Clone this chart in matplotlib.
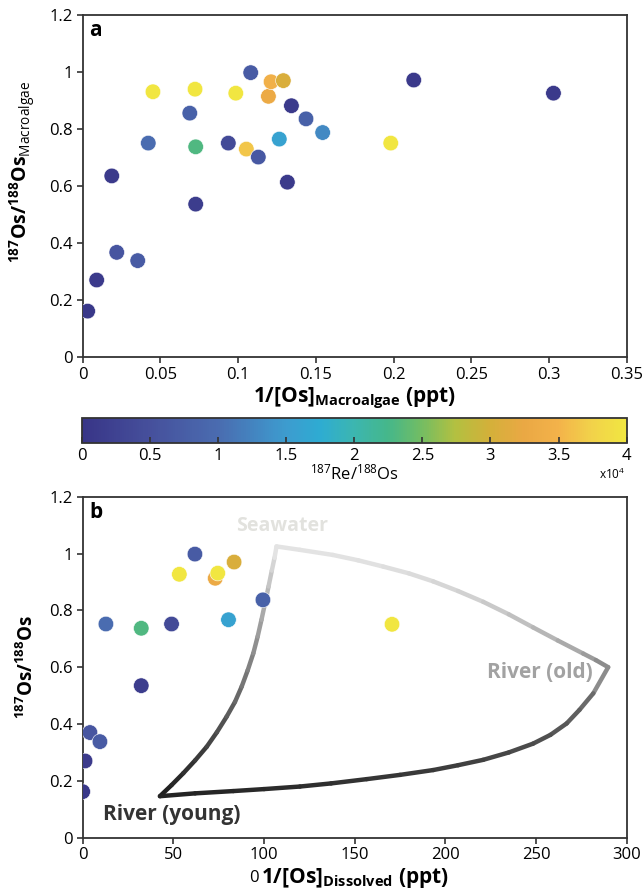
import numpy as np
import matplotlib
matplotlib.use("Agg")
import matplotlib.pyplot as plt
from matplotlib.colors import LinearSegmentedColormap, Normalize
from matplotlib.collections import LineCollection

plt.rcParams['font.family'] = ['Open Sans', 'DejaVu Sans']
plt.rcParams['mathtext.fontset'] = 'custom'
plt.rcParams['mathtext.rm'] = 'Open Sans'
plt.rcParams['mathtext.default'] = 'regular'

# ---- data: panel a (macroalgae) ----
inv_os_algae = [0.0032, 0.009, 0.0187, 0.0219, 0.0354, 0.0422, 0.0452, 0.0689, 0.0723,
                0.0727, 0.0727, 0.0937, 0.0985, 0.1053, 0.1081, 0.1130, 0.1195, 0.1212,
                0.1265, 0.1291, 0.1317, 0.1343, 0.1437, 0.1544, 0.2130, 0.1982, 0.3029]
os_ratio_algae = [0.162, 0.271, 0.636, 0.368, 0.339, 0.751, 0.931, 0.856, 0.940,
                  0.738, 0.537, 0.751, 0.926, 0.730, 0.998, 0.702, 0.915, 0.966,
                  0.765, 0.970, 0.614, 0.882, 0.836, 0.788, 0.972, 0.751, 0.926]
re_os_algae = [500, 1000, 1000, 6000, 7000, 10000, 40000, 8000, 40000,
               23000, 1500, 4000, 40000, 36500, 7000, 6500, 33000, 34500,
               16000, 30500, 1000, 1000, 8000, 13000, 1000, 40000, 1000]

# ---- data: panel b (dissolved) ----
inv_os_diss = [0, 1.3, 4.0, 9.5, 12.8, 32.3, 32.3, 49, 53.3, 61.9, 73.1, 74.5, 83.5, 80.4, 99.4, 170.6]
os_ratio_diss = [0.162, 0.270, 0.370, 0.338, 0.752, 0.737, 0.535, 0.752, 0.927, 0.998,
                 0.913, 0.931, 0.970, 0.767, 0.837, 0.751]
re_os_diss = [500, 1000, 6000, 7000, 10000, 23000, 1500, 4000, 40000, 7000,
              33000, 40000, 30500, 16000, 8000, 40000]

# mixing envelope
young_sw_x = [42.6, 49, 55.5, 62, 68.4, 74, 79.4, 84, 87.7, 91, 94.1, 96.5, 98.6,
              100.6, 102.5, 104.3, 105.8, 106.9]
young_sw_y = [0.146, 0.185, 0.227, 0.272, 0.320, 0.371, 0.426, 0.478, 0.532, 0.589,
              0.649, 0.708, 0.767, 0.826, 0.884, 0.940, 0.985, 1.025]
sw_old_x = [106.9, 119.8, 138, 152, 165.8, 180, 193.3, 207, 220.9, 235, 248.4, 262, 276, 283, 289.8]
sw_old_y = [1.025, 1.013, 0.995, 0.976, 0.954, 0.930, 0.902, 0.868, 0.830, 0.786, 0.740,
            0.694, 0.648, 0.625, 0.600]
old_young_x = [289.8, 281.6, 274, 266.9, 258, 248.4, 235, 220.9, 207, 193.3, 175,
               156.6, 137, 119.8, 100, 83, 62, 42.6]
old_young_y = [0.600, 0.508, 0.450, 0.402, 0.362, 0.331, 0.300, 0.274, 0.255, 0.238,
               0.221, 0.206, 0.191, 0.180, 0.171, 0.164, 0.156, 0.146]

re_ticks = [0, 0.5, 1, 1.5, 2, 2.5, 3, 3.5, 4]

cmap = LinearSegmentedColormap.from_list("parulaish", [
    (0.0, "#383587"), (0.125, "#46509c"), (0.25, "#4a6cb0"), (0.375, "#3d9ccf"),
    (0.4375, "#2eacd2"), (0.5, "#3cb6b0"), (0.5625, "#45b78a"), (0.625, "#74bd62"),
    (0.6875, "#b4c040"), (0.75, "#d4b03a"), (0.8125, "#eaa844"), (0.875, "#f3b24a"),
    (0.9375, "#f2d24a"), (1.0, "#f1e641")])
norm = Normalize(0, 40000)

fig = plt.figure(figsize=(6.43, 8.94), dpi=100)
ax_a = fig.add_axes([0.1286, 0.6003, 0.846, 0.3829])
cax = fig.add_axes([0.1271, 0.5041, 0.8476, 0.028])
ax_b = fig.add_axes([0.1286, 0.0630, 0.846, 0.3814])

spine_col = "#333333"
for ax in (ax_a, ax_b):
    for s in ax.spines.values():
        s.set_color(spine_col)
        s.set_linewidth(1.3)
    ax.tick_params(direction='out', length=4, width=1.2, color=spine_col,
                   labelsize=12, top=False, right=False, pad=3)
    ax.set_ylim(0, 1.2)
    ax.set_yticks([0, 0.2, 0.4, 0.6, 0.8, 1, 1.2])
    ax.set_yticklabels(['0', '0.2', '0.4', '0.6', '0.8', '1', '1.2'])

# panel a
sc = ax_a.scatter(inv_os_algae, os_ratio_algae, c=re_os_algae, cmap=cmap, norm=norm,
                  s=125, edgecolors='white', linewidths=0.4, zorder=3)
ax_a.set_xlim(0, 0.35)
ax_a.set_xticks([0, 0.05, 0.1, 0.15, 0.2, 0.25, 0.3, 0.35])
ax_a.set_xticklabels(['0', '0.05', '0.1', '0.15', '0.2', '0.25', '0.3', '0.35'])
ax_a.set_xlabel(r'1/[Os]$_{Macroalgae}$ (ppt)', fontsize=15, fontweight='bold', labelpad=2)
ax_a.set_ylabel(r'$^{187}$Os/$^{188}$Os$_{\mathrm{Macroalgae}}$', fontsize=14, fontweight='bold')
ax_a.yaxis.set_label_coords(-0.082, 0.541)
ax_a.text(0.012, 0.985, 'a', transform=ax_a.transAxes, fontsize=15, fontweight='bold',
          ha='left', va='top')

# colorbar
cb = fig.colorbar(sc, cax=cax, orientation='horizontal')
cb.outline.set_edgecolor(spine_col)
cb.outline.set_linewidth(1.3)
cax.set_xticks([t * 1e4 for t in re_ticks])
cax.set_xticklabels(['%g' % t for t in re_ticks])
cax.tick_params(direction='in', length=4, width=1.2, color=spine_col, labelsize=12, pad=3)
cax.set_xlabel(r'$^{187}$Re/$^{188}$Os', fontsize=12, labelpad=0)
fig.text(611.7 / 643, 1 - 474 / 894, r'x10$^4$', fontsize=8.5, ha='center', va='center')

# panel b: mixing envelope with grey gradient
def grad_line(ax, xs, ys, g0, g1, power=1.0):
    pts = np.column_stack([xs, ys])
    segs = np.stack([pts[:-1], pts[1:]], axis=1)
    t = np.linspace(0, 1, len(segs)) ** power
    greys = [(g0 + (g1 - g0) * v,) * 3 for v in t]
    lc = LineCollection(segs, colors=greys, linewidths=3.2, capstyle='round',
                        joinstyle='round', zorder=2)
    ax.add_collection(lc)

grad_line(ax_b, young_sw_x, young_sw_y, 0.13, 0.89, 1.2)
grad_line(ax_b, sw_old_x, sw_old_y, 0.89, 0.55, 2.5)
grad_line(ax_b, old_young_x, old_young_y, 0.55, 0.14, 0.4)

ax_b.scatter(inv_os_diss, os_ratio_diss, c=re_os_diss, cmap=cmap, norm=norm,
             s=125, edgecolors='white', linewidths=0.4, zorder=3)
ax_b.set_xlim(0, 300)
ax_b.set_xticks([0, 50, 100, 150, 200, 250, 300])
ax_b.set_xlabel(r'1/[Os]$_{Dissolved}$ (ppt)', fontsize=15, fontweight='bold', labelpad=2)
ax_b.set_ylabel(r'$^{187}$Os/$^{188}$Os', fontsize=13.5, fontweight='bold')
ax_b.yaxis.set_label_coords(-0.082, 0.5)
ax_b.text(0.012, 0.985, 'b', transform=ax_b.transAxes, fontsize=15, fontweight='bold',
          ha='left', va='top')
ax_b.text(110, 1.097, 'Seawater', color='#e2e2de', fontsize=14, fontweight='bold',
          ha='center', va='center', zorder=1)
ax_b.text(252, 0.581, 'River (old)', color='#a2a2a2', fontsize=15, fontweight='bold',
          ha='center', va='center', zorder=1)
ax_b.text(49, 0.080, 'River (young)', color='#333333', fontsize=15, fontweight='bold',
          ha='center', va='center', zorder=1)
fig.text(254 / 643, 1 - 878 / 894, '0', fontsize=12, ha='center', va='center')

fig.savefig("out.png", dpi=100)
